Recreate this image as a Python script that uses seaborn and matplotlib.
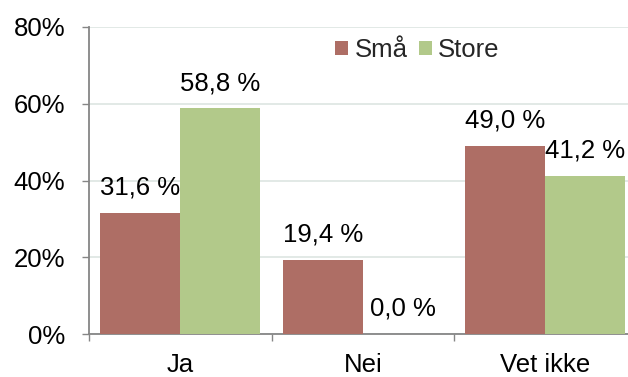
import matplotlib
matplotlib.use("Agg")
import matplotlib.pyplot as plt
from matplotlib.ticker import FixedLocator, FuncFormatter
from matplotlib.patches import Patch
import seaborn as sns
import pandas as pd

categories = ["Ja", "Nei", "Vet ikke"]
series_names = ["Små", "Store"]
sma_values = [31.6, 19.4, 49.0]
store_values = [58.8, 0.0, 41.2]
y_ticks = [0, 20, 40, 60, 80]
colors = ["#AE6E65", "#B2C98A"]

df = pd.DataFrame({
    "Svar": categories * 2,
    "Gruppe": [series_names[0]] * 3 + [series_names[1]] * 3,
    "Andel": sma_values + store_values,
})

FS = 18.5

sns.set_theme(style="white")
plt.rcParams["font.family"] = ["Liberation Sans", "DejaVu Sans"]

fig = plt.figure(figsize=(6.28, 3.77), dpi=100)
ax = fig.add_axes([89 / 628, 43 / 377, 547.5 / 628, 307 / 377])

sns.barplot(data=df, x="Svar", y="Andel", hue="Gruppe", order=categories,
            hue_order=series_names, palette=colors, width=0.877, gap=0,
            saturation=1, errorbar=None, ax=ax, legend=False, zorder=3,
            linewidth=0)

ax.set_xlim(-0.5, 2.5)
ax.set_ylim(0, 80)
ax.set_xlabel("")
ax.set_ylabel("")

# Horizontal gridlines
ax.set_yticks(y_ticks)
ax.yaxis.set_major_formatter(FuncFormatter(lambda v, p: f"{int(v)}%"))
ax.grid(axis="y", color="#DDE5E2", linewidth=1.2, zorder=0)
ax.set_axisbelow(True)

# Category boundary ticks, labels centred between them
ax.xaxis.set_major_locator(FixedLocator([-0.5, 0.5, 1.5, 2.5]))
ax.xaxis.set_major_formatter(FuncFormatter(lambda v, p: ""))
ax.xaxis.set_minor_locator(FixedLocator([0, 1, 2]))
ax.set_xticklabels(categories, minor=True)
ax.tick_params(axis="x", which="major", direction="out", length=5,
               width=1, color="#868686", bottom=True)
ax.tick_params(axis="x", which="minor", length=0, pad=13.5, labelsize=FS,
               labelcolor="black", bottom=True)
ax.tick_params(axis="y", direction="out", length=5, width=1,
               color="#868686", pad=12, labelsize=FS, labelcolor="black", left=True)

for side in ["top", "right"]:
    ax.spines[side].set_visible(False)
for side in ["left", "bottom"]:
    ax.spines[side].set_color("#868686")
    ax.spines[side].set_linewidth(1.3)

# Value labels above each bar
for container, vals in zip(ax.containers, [sma_values, store_values]):
    for bar, v in zip(container, vals):
        ax.annotate(f"{v:.1f} %".replace(".", ","),
                    (bar.get_x() + bar.get_width() / 2, bar.get_height()),
                    xytext=(0, 13), textcoords="offset points",
                    ha="center", va="baseline", fontsize=FS, color="black")

handles = [Patch(facecolor=c, edgecolor="none") for c in colors]
ax.legend(handles, series_names, loc="center", bbox_to_anchor=(0.6, 0.925),
          ncol=2, frameon=False, fontsize=FS, handlelength=0.5,
          handleheight=0.5, handletextpad=0.25, columnspacing=0.45,
          borderpad=0)

fig.savefig("out.png", dpi=100)
